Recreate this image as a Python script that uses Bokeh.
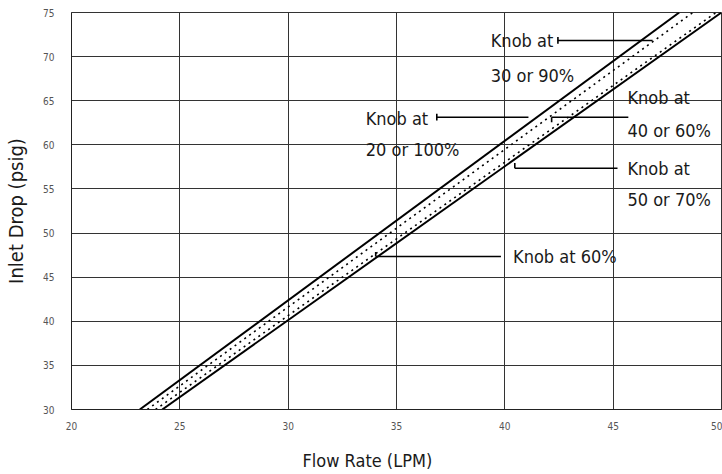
from bokeh.plotting import figure
from bokeh.models import Range1d, FixedTicker, Title
from bokeh.core.properties import value
from bokeh.embed import file_html
from bokeh.resources import INLINE

FONT = "DejaVu Sans Condensed, Liberation Sans, sans-serif"

# ---- data ----
x_ticks = [20, 25, 30, 35, 40, 45, 50]
y_ticks = [30, 35, 40, 45, 50, 55, 60, 65, 70, 75]

pressure = [30, 75]                 # Inlet Drop (psig)
flow_knob_20_100 = [23.15, 48.05]   # solid, left
flow_knob_30_90 = [23.50, 48.68]    # dotted
flow_knob_40_60 = [23.88, 49.75]    # dotted
flow_knob_50_70 = [24.19, 50.00]    # solid, right

# annotation texts (left edge x, middle y, in data units)
txt = ["Knob at", "30 or 90%", "Knob at", "20 or 100%", "Knob at", "40 or 60%",
       "Knob at", "50 or 70%", "Knob at 60%"]
txt_x = [39.35, 39.35, 33.58, 33.58, 45.66, 45.66, 45.66, 45.66, 40.38]
txt_y = [71.83, 67.86, 63.04, 59.50, 65.37, 61.60, 57.32, 53.80, 47.34]

# leader lines
lead_x0 = [42.45, 36.86, 42.16, 40.46, 34.04]
lead_x1 = [46.82, 41.09, 45.70, 45.20, 39.82]
lead_y = [71.83, 63.13, 63.13, 57.35, 47.34]
cap_y0 = [71.45, 62.75, 62.55, 57.35, 47.34]
cap_y1 = [72.21, 63.51, 63.13, 57.95, 47.85]

p = figure(width=722, height=474, x_range=Range1d(20, 50), y_range=Range1d(30, 75),
           output_backend="svg", toolbar_location=None,
           min_border_left=71, min_border_right=1, min_border_top=12, min_border_bottom=65)

p.background_fill_color = "white"
p.border_fill_color = "white"
p.outline_line_color = "#333333"
p.outline_line_width = 1

p.xaxis.ticker = FixedTicker(ticks=x_ticks)
p.yaxis.ticker = FixedTicker(ticks=y_ticks)
for ax in (p.xaxis, p.yaxis):
    ax.major_tick_line_color = None
    ax.minor_tick_line_color = None
    ax.axis_line_color = "#222222"
    ax.major_label_text_font = FONT
    ax.major_label_text_font_size = "10px"
    ax.major_label_text_color = "#555555"
p.xaxis.major_label_standoff = 6
p.yaxis.major_label_standoff = 11

p.yaxis.axis_label = "Inlet Drop (psig)"
p.yaxis.axis_label_text_font = FONT
p.yaxis.axis_label_text_font_size = "20px"
p.yaxis.axis_label_text_font_style = "normal"
p.yaxis.axis_label_text_color = "#1a1a1a"
p.yaxis.axis_label_standoff = 12

p.xgrid.ticker = FixedTicker(ticks=x_ticks)
p.ygrid.ticker = FixedTicker(ticks=y_ticks)
p.grid.grid_line_color = "#333333"
p.grid.grid_line_width = 1
p.grid.grid_line_alpha = 1

# curves
p.line(flow_knob_20_100, pressure, line_color="black", line_width=2)
p.line(flow_knob_50_70, pressure, line_color="black", line_width=2)
p.line(flow_knob_30_90, pressure, line_color="black", line_width=1.6, line_dash="2 4")
p.line(flow_knob_40_60, pressure, line_color="black", line_width=1.6, line_dash="2 4")

# leaders
p.segment(x0=lead_x0, y0=lead_y, x1=lead_x1, y1=lead_y, line_color="black", line_width=1.6)
p.segment(x0=lead_x0, y0=cap_y0, x1=lead_x0, y1=cap_y1, line_color="black", line_width=1.6)

p.text(x=txt_x, y=txt_y, text=txt, text_font=value(FONT), text_font_size="18px",
       text_baseline="middle", text_align="left", text_color="#1a1a1a")

# spacer + x axis title
spacer = Title(text=" ", standoff=12, text_font_size="1px", text_color="white")
p.add_layout(spacer, "below")
xt = Title(text="Flow Rate (LPM)", align="left", offset=231, standoff=0,
           text_font=FONT, text_font_size="18px", text_font_style="normal",
           text_color="#1a1a1a")
p.add_layout(xt, "below")

open("out.html", "w").write(file_html(p, INLINE))
